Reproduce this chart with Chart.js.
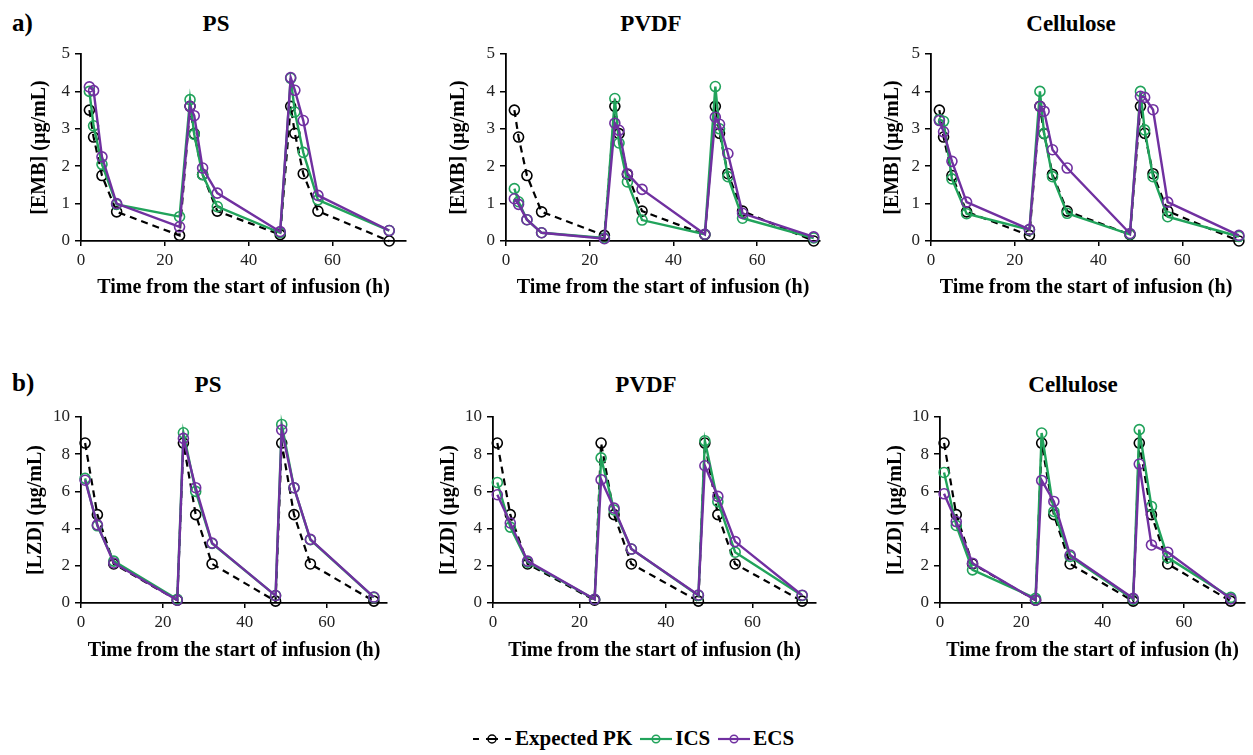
<!DOCTYPE html>
<html>
<head>
<meta charset="utf-8">
<script src="https://cdn.jsdelivr.net/npm/chart.js@4.4.1/dist/chart.umd.min.js"></script>
<style>
  html, body { margin: 0; padding: 0; background: #fff; }
  body { width: 1253px; height: 755px; position: relative; overflow: hidden;
         font-family: "Liberation Serif", "Times New Roman", serif; }
  canvas { position: absolute; }
  .lbl { position: absolute; font-weight: bold; color: #000; white-space: nowrap; line-height: 1; }
  .ptitle { position: absolute; font-weight: bold; font-size: 23px; color: #000; transform: translateX(-50%); white-space: nowrap; line-height: 1; }
  #legend { position: absolute; left: 472px; top: 726px; display: flex; align-items: center;
            font-weight: bold; font-size: 21px; color: #000; white-space: nowrap; }
  #legend svg { display: block; }
</style>
</head>
<body>
<div class="lbl" style="left:12px;top:10px;font-size:25px;">a)</div>
<div class="lbl" style="left:12px;top:370px;font-size:25px;">b)</div>
<div class="ptitle" style="left:216px;top:12px;">PS</div>
<div class="ptitle" style="left:651px;top:12px;">PVDF</div>
<div class="ptitle" style="left:1071px;top:12px;">Cellulose</div>
<div class="ptitle" style="left:208px;top:373px;">PS</div>
<div class="ptitle" style="left:646px;top:373px;">PVDF</div>
<div class="ptitle" style="left:1073px;top:373px;">Cellulose</div>

<canvas id="c1"></canvas>
<canvas id="c2"></canvas>
<canvas id="c3"></canvas>
<canvas id="c4"></canvas>
<canvas id="c5"></canvas>
<canvas id="c6"></canvas>

<div id="legend">
  <svg width="40" height="14"><g stroke="#000" stroke-width="2"><line x1="1" y1="7" x2="7" y2="7"/><line x1="14" y1="7" x2="26" y2="7"/><line x1="33" y1="7" x2="39" y2="7"/></g><circle cx="20" cy="7" r="4" fill="none" stroke="#000" stroke-width="1.5"/></svg>
  <span style="margin-left:3px;">Expected PK</span>
  <svg width="32" height="14" style="margin-left:8px;"><line x1="0" y1="7" x2="32" y2="7" stroke="#21a35b" stroke-width="2.2"/><circle cx="16" cy="7" r="3.8" fill="none" stroke="#21a35b" stroke-width="1.5"/></svg>
  <span style="margin-left:3px;">ICS</span>
  <svg width="32" height="14" style="margin-left:8px;"><line x1="0" y1="7" x2="32" y2="7" stroke="#7030a0" stroke-width="2.2"/><circle cx="16" cy="7" r="3.8" fill="none" stroke="#7030a0" stroke-width="1.5"/></svg>
  <span style="margin-left:3px;">ECS</span>
</div>

<script>
// ---------- DATA ----------
const seriesNames = ["Expected PK", "ICS", "ECS"];
const panelTitles = ["PS", "PVDF", "Cellulose"];
const xTicks = [0, 20, 40, 60];
const embTicks = [0, 1, 2, 3, 4, 5];
const lzdTicks = [0, 2, 4, 6, 8, 10];

const embTime = [2, 3, 5, 8.5, 23.5, 26, 27, 29, 32.5, 47.5, 50, 51, 53, 56.5, 73.5];
const embExpected = [3.5, 2.78, 1.75, 0.78, 0.15, 3.6, 2.87, 1.78, 0.8, 0.17, 3.6, 2.88, 1.8, 0.8, 0];
const embPsIcs = [4.0, 3.08, 2.05, 0.98, 0.65, 3.78, 2.85, 1.77, 0.92, 0.22, 4.35, 3.45, 2.37, 1.1, 0.28];
const embPsEcs = [4.12, 4.02, 2.25, 1.0, 0.38, 3.6, 3.35, 1.95, 1.28, 0.25, 4.37, 4.03, 3.22, 1.22, 0.28];
const embPvdfIcs = [1.4, 1.05, 0.57, 0.22, 0.08, 3.81, 2.62, 1.58, 0.56, 0.18, 4.13, 3.0, 1.72, 0.61, 0.08];
const embPvdfEcs = [1.13, 0.98, 0.57, 0.22, 0.06, 3.15, 2.96, 1.8, 1.38, 0.18, 3.31, 3.12, 2.34, 0.74, 0.11];
const embCellIcs = [3.25, 3.2, 1.66, 0.73, 0.3, 4.0, 2.88, 1.72, 0.74, 0.18, 4.0, 2.97, 1.72, 0.65, 0.12];
const embCellEcs = [3.22, 2.92, 2.13, 1.04, 0.31, 3.6, 3.47, 2.44, 1.95, 0.2, 3.87, 3.84, 3.51, 1.04, 0.15];

const lzdTime = [1, 4, 8, 23.5, 25, 28, 32, 47.5, 49, 52, 56, 71.5];
const lzdExpected = [8.6, 4.75, 2.1, 0.15, 8.6, 4.75, 2.1, 0.1, 8.6, 4.75, 2.1, 0.1];
const lzdPsIcs = [6.7, 4.15, 2.25, 0.2, 9.15, 6.0, 3.2, 0.4, 9.6, 6.2, 3.4, 0.3];
const lzdPsEcs = [6.6, 4.2, 2.15, 0.15, 8.85, 6.2, 3.22, 0.4, 9.3, 6.2, 3.42, 0.32];
const lzdPvdfIcs = [6.48, 4.08, 2.2, 0.2, 7.8, 5.0, 2.9, 0.4, 8.72, 5.45, 2.73, 0.4];
const lzdPvdfEcs = [5.82, 4.3, 2.25, 0.2, 6.63, 5.1, 2.9, 0.43, 7.38, 5.73, 3.3, 0.42];
const lzdCellIcs = [7.02, 4.17, 1.78, 0.25, 9.14, 4.92, 2.5, 0.2, 9.32, 5.19, 2.44, 0.3];
const lzdCellEcs = [5.87, 4.38, 2.14, 0.15, 6.59, 5.46, 2.58, 0.25, 7.47, 3.12, 2.73, 0.22];

// ---------- STYLE / LAYOUT ----------
const FONT = '"Liberation Serif", "Times New Roman", serif';
const COLORS = { expected: '#000000', ics: '#21a35b', ecs: '#7030a0' };
const TITLE_LH = 24;

const layouts = [
  { id: 'c1', L: 81,  R: 406,  T: 54,  B: 241, xMax: 77.5, yTitleX: 40,  xTitleY: 288 },
  { id: 'c2', L: 506, R: 820,  T: 54,  B: 241, xMax: 75,   yTitleX: 459, xTitleY: 288 },
  { id: 'c3', L: 931, R: 1241, T: 54,  B: 241, xMax: 74,   yTitleX: 893, xTitleY: 288 },
  { id: 'c4', L: 81,  R: 387,  T: 417, B: 603, xMax: 74.7, yTitleX: 36,  xTitleY: 651 },
  { id: 'c5', L: 493, R: 816,  T: 417, B: 603, xMax: 74.7, yTitleX: 449, xTitleY: 651 },
  { id: 'c6', L: 940, R: 1245, T: 417, B: 603, xMax: 75,   yTitleX: 896, xTitleY: 651 }
];

const panels = [
  { time: embTime, exp: embExpected, ics: embPsIcs,   ecs: embPsEcs,   yTicks: embTicks, yLabel: '[EMB] (µg/mL)' },
  { time: embTime, exp: embExpected, ics: embPvdfIcs, ecs: embPvdfEcs, yTicks: embTicks, yLabel: '[EMB] (µg/mL)' },
  { time: embTime, exp: embExpected, ics: embCellIcs, ecs: embCellEcs, yTicks: embTicks, yLabel: '[EMB] (µg/mL)' },
  { time: lzdTime, exp: lzdExpected, ics: lzdPsIcs,   ecs: lzdPsEcs,   yTicks: lzdTicks, yLabel: '[LZD] (µg/mL)' },
  { time: lzdTime, exp: lzdExpected, ics: lzdPvdfIcs, ecs: lzdPvdfEcs, yTicks: lzdTicks, yLabel: '[LZD] (µg/mL)' },
  { time: lzdTime, exp: lzdExpected, ics: lzdCellIcs, ecs: lzdCellEcs, yTicks: lzdTicks, yLabel: '[LZD] (µg/mL)' }
];

function pts(t, v) { return t.map((x, i) => ({ x: x, y: v[i] })); }

function ds(label, data, color, dashed, order) {
  return {
    label: label, data: data, order: order,
    borderColor: color, backgroundColor: 'rgba(0,0,0,0)',
    borderWidth: dashed ? 2.2 : 2.4, borderDash: dashed ? [7, 5] : [],
    pointRadius: 5, pointBorderWidth: 1.6, pointBorderColor: color,
    pointBackgroundColor: 'rgba(0,0,0,0)', pointStyle: 'circle',
    tension: 0, clip: false, fill: false
  };
}

const PAD_T = 16, PAD_R = 8;

layouts.forEach((lay, i) => {
  const p = panels[i];
  const axisLeft = lay.yTitleX - TITLE_LH / 2;
  const canvasTop = lay.T - PAD_T;
  const canvasBottom = lay.xTitleY + TITLE_LH / 2;
  const w = Math.round(lay.R + PAD_R - axisLeft);
  const h = Math.round(canvasBottom - canvasTop);
  const cv = document.getElementById(lay.id);
  cv.width = w; cv.height = h;
  cv.style.left = axisLeft + 'px'; cv.style.top = canvasTop + 'px';
  cv.style.width = w + 'px'; cv.style.height = h + 'px';
  const yW = lay.L - axisLeft;
  const xH = canvasBottom - lay.B;
  const yMax = p.yTicks[p.yTicks.length - 1];

  new Chart(cv, {
    type: 'line',
    data: {
      datasets: [
        ds(seriesNames[0], pts(p.time, p.exp), COLORS.expected, true, 2),
        ds(seriesNames[1], pts(p.time, p.ics), COLORS.ics, false, 1),
        ds(seriesNames[2], pts(p.time, p.ecs), COLORS.ecs, false, 0)
      ]
    },
    options: {
      responsive: false, animation: false, devicePixelRatio: 1,
      layout: { padding: { top: PAD_T, right: PAD_R, left: 0, bottom: 0 } },
      plugins: { legend: { display: false }, tooltip: { enabled: false }, title: { display: false } },
      scales: {
        x: {
          type: 'linear', min: 0, max: lay.xMax,
          afterFit: s => { s.height = xH; },
          afterBuildTicks: s => { s.ticks = xTicks.map(v => ({ value: v })); },
          ticks: { font: { family: FONT, size: 17 }, color: '#222', padding: 4, maxRotation: 0, includeBounds: false },
          grid: { display: true, drawOnChartArea: false, drawTicks: true, tickLength: 5, color: '#000', lineWidth: 1.5 },
          border: { display: true, color: '#000', width: 1.8 },
          title: { display: true, text: 'Time from the start of infusion (h)', color: '#000',
                   font: { family: FONT, size: 20, weight: 'bold', lineHeight: 1.2 }, padding: 0 }
        },
        y: {
          type: 'linear', min: 0, max: yMax,
          afterFit: s => { s.width = yW; },
          afterBuildTicks: s => { s.ticks = p.yTicks.map(v => ({ value: v })); },
          ticks: { font: { family: FONT, size: 17 }, color: '#222', padding: 5 },
          grid: { display: true, drawOnChartArea: false, drawTicks: true, tickLength: 6, color: '#000', lineWidth: 1.5 },
          border: { display: true, color: '#000', width: 1.8 },
          title: { display: true, text: p.yLabel, color: '#000',
                   font: { family: FONT, size: 20, weight: 'bold', lineHeight: 1.2 }, padding: 0 }
        }
      }
    }
  });
});
</script>
</body>
</html>
